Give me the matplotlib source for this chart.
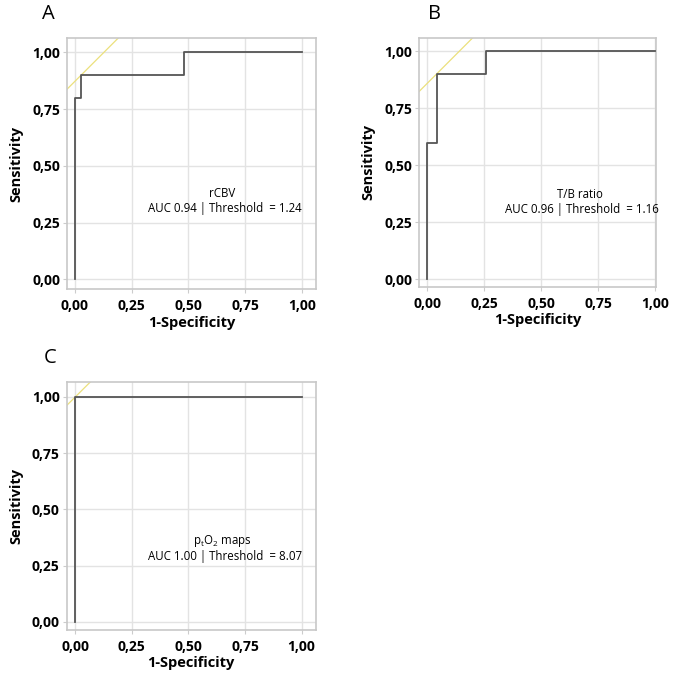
import matplotlib
matplotlib.use("Agg")
import matplotlib.pyplot as plt
from matplotlib.ticker import FuncFormatter

plt.rcParams['font.family'] = ['Open Sans', 'DejaVu Sans']
plt.rcParams['mathtext.default'] = 'regular'

# ROC step curves (1-specificity, sensitivity)
fpr_a = [0.0, 0.0, 0.028, 0.028, 0.483, 0.483, 1.0]
tpr_a = [0.0, 0.8, 0.8, 0.9, 0.9, 1.0, 1.0]
fpr_b = [0.0, 0.0, 0.041, 0.041, 0.26, 0.26, 1.0]
tpr_b = [0.0, 0.6, 0.6, 0.9, 0.9, 1.0, 1.0]
fpr_c = [0.0, 0.0, 1.0]
tpr_c = [0.0, 1.0, 1.0]

# optimal cut-off points (tangent line with slope 1)
opt_a = (0.028, 0.9)
opt_b = (0.041, 0.9)
opt_c = (0.0, 1.0)

names = ["rCBV", "T/B ratio", "p$_t$O$_2$ maps"]
aucs = ["0.94", "0.96", "1.00"]
thresholds = ["1.24", "1.16", "8.07"]
letters = ["A", "B", "C"]

ticks = [0, 0.25, 0.5, 0.75, 1.0]

fig = plt.figure(figsize=(6.75, 6.78), dpi=100)

panels = [
    # rect, xlim, ylim, text x, text y
    ([0.0993, 0.5737, 0.369, 0.370], (-0.034, 1.063), (-0.043, 1.063), 0.66, 0.31),
    ([0.6207, 0.577, 0.351, 0.367], (-0.036, 1.003), (-0.032, 1.058), 0.68, 0.305),
    ([0.0988, 0.0708, 0.369, 0.366], (-0.038, 1.063), (-0.036, 1.067), 0.66, 0.292),
]
curves = [(fpr_a, tpr_a, opt_a), (fpr_b, tpr_b, opt_b), (fpr_c, tpr_c, opt_c)]
letter_pos = [(0.062, 0.979), (0.634, 0.979), (0.065, 0.472)]

fmt = FuncFormatter(lambda v, p: f"{v:.2f}".replace(".", ","))

for i in range(3):
    rect, xl, yl, tx, ty = panels[i]
    fpr, tpr, opt = curves[i]
    ax = fig.add_axes(rect)
    ax.set_xlim(xl)
    ax.set_ylim(yl)

    # tangent line
    xs = [xl[0], xl[1]]
    ys = [x - opt[0] + opt[1] for x in xs]
    ax.plot(xs, ys, color="#ebe07c", lw=0.9, zorder=2)

    ax.plot(fpr, tpr, color="#555555", lw=1.3, zorder=3)

    ax.set_xticks(ticks)
    ax.set_yticks(ticks)
    ax.xaxis.set_major_formatter(fmt)
    ax.yaxis.set_major_formatter(fmt)
    ax.grid(True, color="#e3e3e3", lw=1.0, zorder=0)
    ax.tick_params(length=3, color="#cccccc", labelsize=10, pad=2)
    ax.tick_params(axis="x", pad=4)
    for lab in ax.get_xticklabels() + ax.get_yticklabels():
        lab.set_fontweight("bold")
    for s in ax.spines.values():
        s.set_color("#c8c8c8")
        s.set_linewidth(1.2)

    ax.set_xlabel("1-Specificity", fontsize=10.5, fontweight="bold", labelpad=2)
    ax.set_ylabel("Sensitivity", fontsize=10.5, fontweight="bold", labelpad=6)

    ax.text(tx - 0.01, ty + 0.067, names[i], ha="center", va="center",
            fontsize=8.3)
    ax.text(tx, ty, f"AUC {aucs[i]} | Threshold  = {thresholds[i]}",
            ha="center", va="center", fontsize=8.3)

    fig.text(letter_pos[i][0], letter_pos[i][1], letters[i], fontsize=14.5,
             ha="left", va="center")

fig.savefig("out.png", dpi=100)
